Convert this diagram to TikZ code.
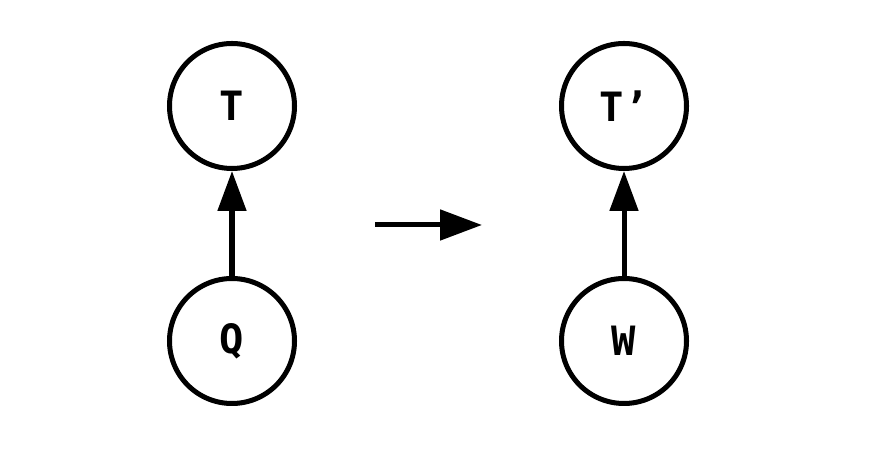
\documentclass[tikz,border=0pt]{standalone}
\usepackage{fontspec}
\setmonofont{DejaVu Sans Mono}
\usepackage{tikz}
\usetikzlibrary{arrows.meta,positioning}

\begin{document}
\begin{tikzpicture}[
    font=\ttfamily\bfseries\fontsize{23}{26}\selectfont,
    var/.style={draw, circle, line width=2.85pt, minimum size=2.5cm, inner sep=0pt},
    link/.style={-{Triangle[length=0.8cm, width=0.56cm]}, line width=2.85pt},
    maps/.style={-{Triangle[length=0.84cm, width=0.6cm]}, line width=2.85pt}
]
\useasboundingbox (0,0) rectangle (17.84,9.16);

\node[var] (t) at (4.64,7.04) {T};
\node[var] (q) at (4.64,2.34) {Q};
\node[var] (tp) at (12.48,7.04) {T’};
\node[var] (w) at (12.48,2.34) {W};

\coordinate (from) at (7.5,4.66);
\coordinate (to) at (9.64,4.66);

\draw[link] (q) -- (t);
\draw[link] (w) -- (tp);
\draw[maps] (from) -- (to);

\end{tikzpicture}
\end{document}
